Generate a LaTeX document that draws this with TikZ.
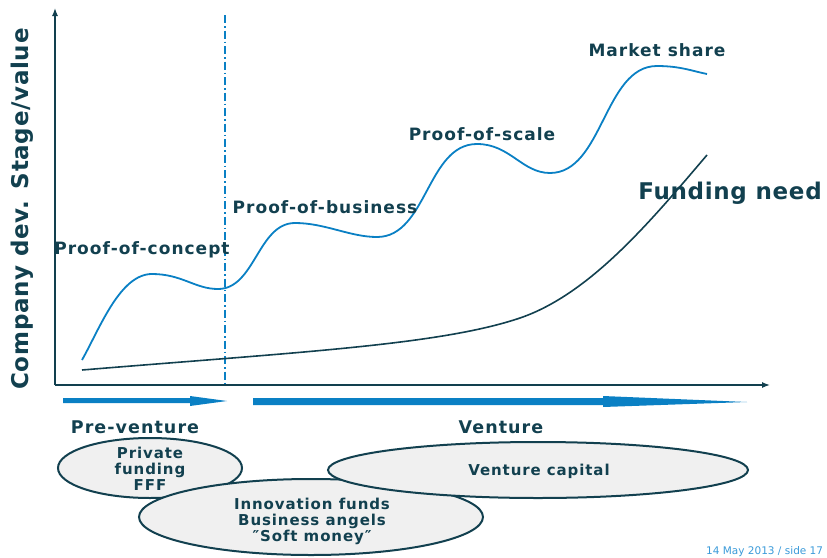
\documentclass[tikz,border=0pt]{standalone}
\usepackage{fontspec}
\setmainfont{DejaVu Sans}
\newfontfamily\widefont[LetterSpace=6]{DejaVu Sans}
\newfontfamily\semiwide[LetterSpace=3]{DejaVu Sans}
\usetikzlibrary{arrows.meta,shapes.geometric}
\definecolor{dk}{HTML}{12404F}
\definecolor{bl}{HTML}{0A80C4}
\definecolor{ellfill}{HTML}{F0F0F0}
\definecolor{foot}{HTML}{3A9AD9}
\newcommand{\fs}[1]{\widefont\fontsize{#1}{#1}\selectfont\bfseries}
\tikzset{
  axis/.style={draw=dk, line width=1.3pt, -{Latex[length=8pt,width=6pt]}},
  stage/.style={font=\fs{17}, text=dk, inner sep=0pt},
  phase/.style={font=\fs{17.5}, text=dk, inner sep=0pt},
  fund/.style={ellipse, draw=dk, fill=ellfill, line width=2pt, inner sep=0pt},
  ftext/.style={font=\fs{15}, text=dk, align=center, inner sep=0pt},
  value/.style={draw=bl, line width=1.8pt},
  need/.style={draw=dk, line width=1.6pt},
  barrow/.style={fill=bl, draw=none},
}
\begin{document}
\begin{tikzpicture}[x=1pt,y=-1pt]
\useasboundingbox (0,0) rectangle (827,557);
% axes
\coordinate (O) at (55,385);
\coordinate (ytop) at (55,8);
\coordinate (xend) at (770,385);
\draw[axis] (O) -- (ytop);
\draw[axis] (O) -- (xend);
\node[rotate=90, font={\semiwide\fontsize{23}{23}\selectfont\bfseries}, text=dk, inner sep=0pt] (ylab) at (22,209) {Company dev. Stage/value};
% dash-dot separator
\draw[bl, line width=1.5pt, dash pattern=on 8pt off 3pt on 1.5pt off 3pt] (225,15) -- (225,385);
% value curve
\draw[value] (82,360) .. controls (100,328) and (120,274) .. (152,274)
  .. controls (182,274) and (195,289) .. (218,289)
  .. controls (255,289) and (258,223) .. (295,223)
  .. controls (325,223) and (350,237) .. (377,237)
  .. controls (427,237) and (427,144) .. (477,144)
  .. controls (510,144) and (522,173) .. (550,173)
  .. controls (603,173) and (604,66) .. (657,66)
  .. controls (680,66) and (692,71) .. (707,74);
% funding need curve
\draw[need] (82,370) .. controls (300,352) and (440,345) .. (520,318)
  .. controls (590,294) and (650,222) .. (707,155);
% stage labels
\node[stage] (poc) at (142,250) {Proof-of-concept};
\node[stage] (pob) at (325,207) {Proof-of-business};
\node[stage] (pos) at (482,134) {Proof-of-scale};
\node[stage] (ms) at (657,50) {Market share};
\node[font={\semiwide\fontsize{23}{23}\selectfont\bfseries}, text=dk, inner sep=0pt] (fn) at (730,193) {Funding need};
% phase arrows
\fill[barrow] (63,398) -- (190,398) -- (190,396) -- (227,401) -- (190,406) -- (190,403) -- (63,403) -- cycle;
\fill[barrow] (253,398) -- (603,398) -- (603,396) -- (747,402) -- (603,407) -- (603,405) -- (253,405) -- cycle;
\node[phase] (pre) at (135,427) {Pre-venture};
\node[phase] (ven) at (501,427) {Venture};
% funding ellipses
\node[fund, minimum width=184pt, minimum height=60pt] (priv) at (150,468) {};
\node[fund, minimum width=344pt, minimum height=76pt] (innov) at (311,517) {};
\node[fund, minimum width=420pt, minimum height=56pt] (vc) at (538,470) {};
\node[ftext] (privt) at (150,469) {Private\\[1pt]funding\\[1pt]FFF};
\node[ftext] (innovt) at (312,521) {Innovation funds\\[1pt]Business angels\\[1pt]″Soft money″};
\node[ftext] (vct) at (539,471) {Venture capital};
% footer
\node[anchor=north west, font=\fontsize{10.5}{10.5}\selectfont, text=foot, inner sep=0pt] (foot) at (706,546) {14 May 2013  / side 17};
\end{tikzpicture}
\end{document}
